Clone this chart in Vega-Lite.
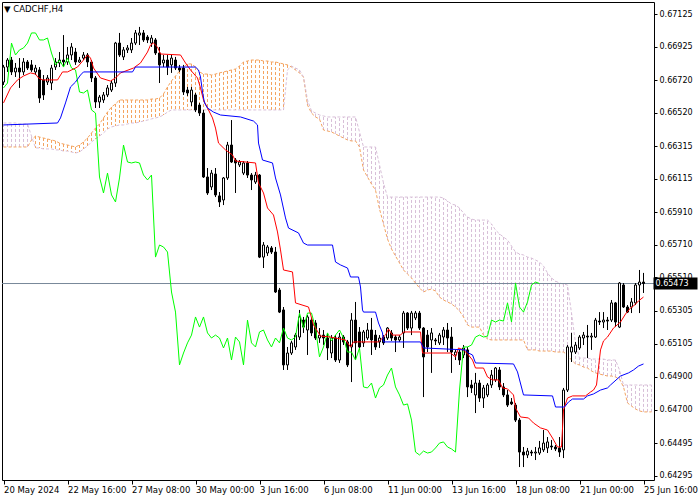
{
"$schema":"https://vega.github.io/schema/vega-lite/v6.json",
"width":652,"height":478,"autosize":"none",
"padding":{"left":2,"top":2,"right":46,"bottom":20},
"background":"white",
"config":{"view":{"stroke":"#000","strokeWidth":1},"axis":{"grid":false,"labelOverlap":false,"labelFlush":false,"title":null}},
"datasets":{
"candles":[
{"i":0,"o":0.66708,"h":0.66813,"l":0.66690,"c":0.66800},
{"i":1,"o":0.66800,"h":0.66855,"l":0.66770,"c":0.66843},
{"i":2,"o":0.66843,"h":0.66862,"l":0.66751,"c":0.66770},
{"i":3,"o":0.66770,"h":0.66825,"l":0.66739,"c":0.66794},
{"i":4,"o":0.66794,"h":0.66855,"l":0.66672,"c":0.66770},
{"i":5,"o":0.66770,"h":0.66855,"l":0.66751,"c":0.66831},
{"i":6,"o":0.66831,"h":0.66843,"l":0.66782,"c":0.66794},
{"i":7,"o":0.66813,"h":0.66843,"l":0.66770,"c":0.66782},
{"i":8,"o":0.66770,"h":0.66813,"l":0.66751,"c":0.66794},
{"i":9,"o":0.66782,"h":0.66800,"l":0.66580,"c":0.66610},
{"i":10,"o":0.66721,"h":0.66751,"l":0.66598,"c":0.66629},
{"i":11,"o":0.66708,"h":0.66751,"l":0.66690,"c":0.66733},
{"i":12,"o":0.66702,"h":0.66813,"l":0.66659,"c":0.66794},
{"i":13,"o":0.66800,"h":0.66855,"l":0.66782,"c":0.66831},
{"i":14,"o":0.66825,"h":0.66892,"l":0.66800,"c":0.66843},
{"i":15,"o":0.66843,"h":0.66996,"l":0.66800,"c":0.66831},
{"i":16,"o":0.66831,"h":0.66923,"l":0.66813,"c":0.66874},
{"i":17,"o":0.66874,"h":0.66947,"l":0.66843,"c":0.66923},
{"i":18,"o":0.66892,"h":0.66917,"l":0.66813,"c":0.66831},
{"i":19,"o":0.66831,"h":0.66862,"l":0.66825,"c":0.66843},
{"i":20,"o":0.66855,"h":0.66892,"l":0.66843,"c":0.66874},
{"i":21,"o":0.66874,"h":0.66886,"l":0.66800,"c":0.66831},
{"i":22,"o":0.66831,"h":0.66843,"l":0.66708,"c":0.66733},
{"i":23,"o":0.66733,"h":0.66745,"l":0.66549,"c":0.66586},
{"i":24,"o":0.66586,"h":0.66629,"l":0.66549,"c":0.66616},
{"i":25,"o":0.66598,"h":0.66647,"l":0.66580,"c":0.66629},
{"i":26,"o":0.66629,"h":0.66690,"l":0.66616,"c":0.66672},
{"i":27,"o":0.66659,"h":0.66721,"l":0.66647,"c":0.66702},
{"i":28,"o":0.66702,"h":0.66954,"l":0.66678,"c":0.66947},
{"i":29,"o":0.66947,"h":0.67009,"l":0.66862,"c":0.66874},
{"i":30,"o":0.66862,"h":0.66923,"l":0.66843,"c":0.66905},
{"i":31,"o":0.66905,"h":0.66935,"l":0.66886,"c":0.66917},
{"i":32,"o":0.66905,"h":0.66978,"l":0.66886,"c":0.66947},
{"i":33,"o":0.66947,"h":0.67027,"l":0.66935,"c":0.67009},
{"i":34,"o":0.66996,"h":0.67046,"l":0.66935,"c":0.67009},
{"i":35,"o":0.67009,"h":0.67027,"l":0.66954,"c":0.66966},
{"i":36,"o":0.66984,"h":0.66996,"l":0.66947,"c":0.66966},
{"i":37,"o":0.66947,"h":0.66996,"l":0.66923,"c":0.66978},
{"i":38,"o":0.66966,"h":0.66978,"l":0.66874,"c":0.66886},
{"i":39,"o":0.66886,"h":0.66923,"l":0.66702,"c":0.66813},
{"i":40,"o":0.66825,"h":0.66874,"l":0.66800,"c":0.66843},
{"i":41,"o":0.66843,"h":0.66874,"l":0.66751,"c":0.66800},
{"i":42,"o":0.66813,"h":0.66874,"l":0.66764,"c":0.66855},
{"i":43,"o":0.66843,"h":0.66862,"l":0.66782,"c":0.66794},
{"i":44,"o":0.66794,"h":0.66813,"l":0.66770,"c":0.66782},
{"i":45,"o":0.66794,"h":0.66813,"l":0.66629,"c":0.66647},
{"i":46,"o":0.66659,"h":0.66678,"l":0.66623,"c":0.66641},
{"i":47,"o":0.66586,"h":0.66678,"l":0.66561,"c":0.66659},
{"i":48,"o":0.66629,"h":0.66641,"l":0.66524,"c":0.66537},
{"i":49,"o":0.66567,"h":0.66580,"l":0.66500,"c":0.66518},
{"i":50,"o":0.66518,"h":0.66537,"l":0.66120,"c":0.66126},
{"i":51,"o":0.66126,"h":0.66181,"l":0.66016,"c":0.66028},
{"i":52,"o":0.66065,"h":0.66169,"l":0.66046,"c":0.66150},
{"i":53,"o":0.66144,"h":0.66181,"l":0.66003,"c":0.66016},
{"i":54,"o":0.66010,"h":0.66034,"l":0.65942,"c":0.65973},
{"i":55,"o":0.65985,"h":0.66126,"l":0.65954,"c":0.66120},
{"i":56,"o":0.66120,"h":0.66341,"l":0.66108,"c":0.66322},
{"i":57,"o":0.66322,"h":0.66475,"l":0.66212,"c":0.66218},
{"i":58,"o":0.66230,"h":0.66242,"l":0.66028,"c":0.66212},
{"i":59,"o":0.66200,"h":0.66230,"l":0.66187,"c":0.66218},
{"i":60,"o":0.66150,"h":0.66224,"l":0.66138,"c":0.66212},
{"i":61,"o":0.66212,"h":0.66224,"l":0.66120,"c":0.66138},
{"i":62,"o":0.66138,"h":0.66150,"l":0.66046,"c":0.66108},
{"i":63,"o":0.66095,"h":0.66157,"l":0.66083,"c":0.66138},
{"i":64,"o":0.66138,"h":0.66144,"l":0.65629,"c":0.65635},
{"i":65,"o":0.65635,"h":0.65727,"l":0.65568,"c":0.65709},
{"i":66,"o":0.65660,"h":0.65709,"l":0.65642,"c":0.65697},
{"i":67,"o":0.65691,"h":0.65703,"l":0.65654,"c":0.65666},
{"i":68,"o":0.65666,"h":0.65697,"l":0.65415,"c":0.65421},
{"i":69,"o":0.65433,"h":0.65446,"l":0.65292,"c":0.65298},
{"i":70,"o":0.65311,"h":0.65329,"l":0.64943,"c":0.64974},
{"i":71,"o":0.64974,"h":0.65084,"l":0.64943,"c":0.65047},
{"i":72,"o":0.65047,"h":0.65121,"l":0.65035,"c":0.65109},
{"i":73,"o":0.65084,"h":0.65170,"l":0.65066,"c":0.65157},
{"i":74,"o":0.65145,"h":0.65311,"l":0.65127,"c":0.65268},
{"i":75,"o":0.65249,"h":0.65268,"l":0.65170,"c":0.65206},
{"i":76,"o":0.65188,"h":0.65280,"l":0.65035,"c":0.65268},
{"i":77,"o":0.65249,"h":0.65262,"l":0.65151,"c":0.65170},
{"i":78,"o":0.65231,"h":0.65249,"l":0.65127,"c":0.65139},
{"i":79,"o":0.65139,"h":0.65200,"l":0.65109,"c":0.65157},
{"i":80,"o":0.65157,"h":0.65188,"l":0.65096,"c":0.65139},
{"i":81,"o":0.65139,"h":0.65170,"l":0.65004,"c":0.65078},
{"i":82,"o":0.65047,"h":0.65157,"l":0.65016,"c":0.65139},
{"i":83,"o":0.65139,"h":0.65157,"l":0.64992,"c":0.65004},
{"i":84,"o":0.65004,"h":0.65170,"l":0.64986,"c":0.65145},
{"i":85,"o":0.65145,"h":0.65157,"l":0.65096,"c":0.65115},
{"i":86,"o":0.65115,"h":0.65127,"l":0.64961,"c":0.64974},
{"i":87,"o":0.65084,"h":0.65292,"l":0.64869,"c":0.65249},
{"i":88,"o":0.65249,"h":0.65360,"l":0.65004,"c":0.65109},
{"i":89,"o":0.65176,"h":0.65206,"l":0.65066,"c":0.65084},
{"i":90,"o":0.65109,"h":0.65188,"l":0.65084,"c":0.65176},
{"i":91,"o":0.65139,"h":0.65231,"l":0.65127,"c":0.65188},
{"i":92,"o":0.65188,"h":0.65262,"l":0.65035,"c":0.65127},
{"i":93,"o":0.65157,"h":0.65188,"l":0.65066,"c":0.65084},
{"i":94,"o":0.65115,"h":0.65157,"l":0.65078,"c":0.65139},
{"i":95,"o":0.65145,"h":0.65157,"l":0.65096,"c":0.65109},
{"i":96,"o":0.65139,"h":0.65206,"l":0.65127,"c":0.65200},
{"i":97,"o":0.65170,"h":0.65188,"l":0.65121,"c":0.65139},
{"i":98,"o":0.65145,"h":0.65157,"l":0.65053,"c":0.65127},
{"i":99,"o":0.65127,"h":0.65157,"l":0.65115,"c":0.65145},
{"i":100,"o":0.65170,"h":0.65305,"l":0.65078,"c":0.65292},
{"i":101,"o":0.65292,"h":0.65298,"l":0.65188,"c":0.65200},
{"i":102,"o":0.65200,"h":0.65305,"l":0.65157,"c":0.65292},
{"i":103,"o":0.65262,"h":0.65305,"l":0.65249,"c":0.65292},
{"i":104,"o":0.65292,"h":0.65305,"l":0.65188,"c":0.65200},
{"i":105,"o":0.65200,"h":0.65206,"l":0.64777,"c":0.65023},
{"i":106,"o":0.65157,"h":0.65188,"l":0.65053,"c":0.65084},
{"i":107,"o":0.65127,"h":0.65200,"l":0.64925,"c":0.65170},
{"i":108,"o":0.65127,"h":0.65139,"l":0.65096,"c":0.65121},
{"i":109,"o":0.65109,"h":0.65170,"l":0.65096,"c":0.65157},
{"i":110,"o":0.65145,"h":0.65206,"l":0.65096,"c":0.65188},
{"i":111,"o":0.65188,"h":0.65231,"l":0.65053,"c":0.65139},
{"i":112,"o":0.65145,"h":0.65206,"l":0.64925,"c":0.65053},
{"i":113,"o":0.65035,"h":0.65066,"l":0.65004,"c":0.65053},
{"i":114,"o":0.65053,"h":0.65066,"l":0.64974,"c":0.65004},
{"i":115,"o":0.65035,"h":0.65096,"l":0.65016,"c":0.65078},
{"i":116,"o":0.65066,"h":0.65084,"l":0.64777,"c":0.64839},
{"i":117,"o":0.64851,"h":0.64882,"l":0.64802,"c":0.64833},
{"i":118,"o":0.64790,"h":0.64925,"l":0.64679,"c":0.64863},
{"i":119,"o":0.64863,"h":0.64882,"l":0.64747,"c":0.64771},
{"i":120,"o":0.64771,"h":0.64851,"l":0.64710,"c":0.64833},
{"i":121,"o":0.64790,"h":0.64863,"l":0.64777,"c":0.64851},
{"i":122,"o":0.64851,"h":0.64943,"l":0.64833,"c":0.64912},
{"i":123,"o":0.64882,"h":0.64961,"l":0.64869,"c":0.64955},
{"i":124,"o":0.64943,"h":0.64961,"l":0.64820,"c":0.64839},
{"i":125,"o":0.64839,"h":0.64863,"l":0.64777,"c":0.64790},
{"i":126,"o":0.64790,"h":0.64820,"l":0.64716,"c":0.64728},
{"i":127,"o":0.64747,"h":0.64771,"l":0.64728,"c":0.64735},
{"i":128,"o":0.64728,"h":0.64741,"l":0.64624,"c":0.64636},
{"i":129,"o":0.64636,"h":0.64649,"l":0.64348,"c":0.64440},
{"i":130,"o":0.64440,"h":0.64471,"l":0.64348,"c":0.64422},
{"i":131,"o":0.64422,"h":0.64465,"l":0.64403,"c":0.64446},
{"i":132,"o":0.64440,"h":0.64453,"l":0.64416,"c":0.64434},
{"i":133,"o":0.64434,"h":0.64471,"l":0.64391,"c":0.64440},
{"i":134,"o":0.64434,"h":0.64508,"l":0.64422,"c":0.64465},
{"i":135,"o":0.64453,"h":0.64575,"l":0.64440,"c":0.64495},
{"i":136,"o":0.64465,"h":0.64532,"l":0.64434,"c":0.64502},
{"i":137,"o":0.64477,"h":0.64514,"l":0.64453,"c":0.64471},
{"i":138,"o":0.64471,"h":0.64483,"l":0.64446,"c":0.64459},
{"i":139,"o":0.64465,"h":0.64532,"l":0.64410,"c":0.64440},
{"i":140,"o":0.64453,"h":0.64833,"l":0.64403,"c":0.64820},
{"i":141,"o":0.64820,"h":0.65096,"l":0.64808,"c":0.65084},
{"i":142,"o":0.65053,"h":0.65170,"l":0.64992,"c":0.65084},
{"i":143,"o":0.65053,"h":0.65115,"l":0.65041,"c":0.65096},
{"i":144,"o":0.65078,"h":0.65157,"l":0.65066,"c":0.65145},
{"i":145,"o":0.65139,"h":0.65176,"l":0.65096,"c":0.65157},
{"i":146,"o":0.65151,"h":0.65219,"l":0.65016,"c":0.65145},
{"i":147,"o":0.65145,"h":0.65170,"l":0.65066,"c":0.65151},
{"i":148,"o":0.65145,"h":0.65262,"l":0.65139,"c":0.65249},
{"i":149,"o":0.65243,"h":0.65298,"l":0.65219,"c":0.65237},
{"i":150,"o":0.65237,"h":0.65298,"l":0.65200,"c":0.65249},
{"i":151,"o":0.65249,"h":0.65268,"l":0.65188,"c":0.65243},
{"i":152,"o":0.65249,"h":0.65372,"l":0.65237,"c":0.65354},
{"i":153,"o":0.65354,"h":0.65360,"l":0.65206,"c":0.65237},
{"i":154,"o":0.65206,"h":0.65482,"l":0.65200,"c":0.65476},
{"i":155,"o":0.65464,"h":0.65476,"l":0.65323,"c":0.65329},
{"i":156,"o":0.65329,"h":0.65341,"l":0.65292,"c":0.65298},
{"i":157,"o":0.65329,"h":0.65384,"l":0.65292,"c":0.65360},
{"i":158,"o":0.65354,"h":0.65476,"l":0.65341,"c":0.65464},
{"i":159,"o":0.65464,"h":0.65556,"l":0.65292,"c":0.65482},
{"i":160,"o":0.65482,"h":0.65538,"l":0.65415,"c":0.65473}
],
"cloud":[
{"i":0,"a":0.66310,"b":0.66457},{"i":1,"a":0.66310,"b":0.66457},{"i":2,"a":0.66310,"b":0.66457},{"i":3,"a":0.66310,"b":0.66457},
{"i":4,"a":0.66310,"b":0.66451},{"i":5,"a":0.66310,"b":0.66451},{"i":6,"a":0.66310,"b":0.66451},{"i":7,"a":0.66353,"b":0.66377},
{"i":8,"a":0.66377,"b":0.66304},{"i":9,"a":0.66371,"b":0.66304},{"i":10,"a":0.66365,"b":0.66298},{"i":11,"a":0.66359,"b":0.66298},
{"i":12,"a":0.66353,"b":0.66298},{"i":13,"a":0.66347,"b":0.66292},{"i":14,"a":0.66334,"b":0.66292},{"i":15,"a":0.66328,"b":0.66285},
{"i":16,"a":0.66322,"b":0.66285},{"i":17,"a":0.66316,"b":0.66279},{"i":18,"a":0.66310,"b":0.66273},{"i":19,"a":0.66322,"b":0.66279},
{"i":20,"a":0.66341,"b":0.66298},{"i":21,"a":0.66365,"b":0.66316},{"i":22,"a":0.66396,"b":0.66341},{"i":23,"a":0.66426,"b":0.66359},
{"i":24,"a":0.66451,"b":0.66377},{"i":25,"a":0.66488,"b":0.66396},{"i":26,"a":0.66524,"b":0.66420},{"i":27,"a":0.66555,"b":0.66433},
{"i":28,"a":0.66574,"b":0.66439},{"i":29,"a":0.66598,"b":0.66445},{"i":30,"a":0.66598,"b":0.66445},{"i":31,"a":0.66598,"b":0.66451},
{"i":32,"a":0.66598,"b":0.66457},{"i":33,"a":0.66598,"b":0.66457},{"i":34,"a":0.66598,"b":0.66463},{"i":35,"a":0.66598,"b":0.66469},
{"i":36,"a":0.66598,"b":0.66475},{"i":37,"a":0.66604,"b":0.66482},{"i":38,"a":0.66604,"b":0.66488},{"i":39,"a":0.66610,"b":0.66494},
{"i":40,"a":0.66635,"b":0.66506},{"i":41,"a":0.66678,"b":0.66524},{"i":42,"a":0.66715,"b":0.66537},{"i":43,"a":0.66745,"b":0.66537},
{"i":44,"a":0.66776,"b":0.66537},{"i":45,"a":0.66800,"b":0.66537},{"i":46,"a":0.66819,"b":0.66537},{"i":47,"a":0.66819,"b":0.66537},
{"i":48,"a":0.66800,"b":0.66537},{"i":49,"a":0.66770,"b":0.66537},{"i":50,"a":0.66757,"b":0.66537},{"i":51,"a":0.66757,"b":0.66537},
{"i":52,"a":0.66751,"b":0.66537},{"i":53,"a":0.66757,"b":0.66537},{"i":54,"a":0.66764,"b":0.66537},{"i":55,"a":0.66770,"b":0.66537},
{"i":56,"a":0.66776,"b":0.66537},{"i":57,"a":0.66782,"b":0.66537},{"i":58,"a":0.66788,"b":0.66537},{"i":59,"a":0.66806,"b":0.66537},
{"i":60,"a":0.66831,"b":0.66537},{"i":61,"a":0.66837,"b":0.66537},{"i":62,"a":0.66843,"b":0.66537},{"i":63,"a":0.66843,"b":0.66537},
{"i":64,"a":0.66843,"b":0.66537},{"i":65,"a":0.66837,"b":0.66537},{"i":66,"a":0.66837,"b":0.66537},{"i":67,"a":0.66831,"b":0.66537},
{"i":68,"a":0.66831,"b":0.66537},{"i":69,"a":0.66825,"b":0.66537},{"i":70,"a":0.66819,"b":0.66537},{"i":71,"a":0.66813,"b":0.66782},
{"i":72,"a":0.66800,"b":0.66806},{"i":73,"a":0.66782,"b":0.66794},{"i":74,"a":0.66764,"b":0.66782},{"i":75,"a":0.66739,"b":0.66739},
{"i":76,"a":0.66567,"b":0.66598},{"i":77,"a":0.66518,"b":0.66531},{"i":78,"a":0.66494,"b":0.66518},{"i":79,"a":0.66481,"b":0.66506},
{"i":80,"a":0.66414,"b":0.66500},{"i":81,"a":0.66408,"b":0.66494},{"i":82,"a":0.66402,"b":0.66494},{"i":83,"a":0.66390,"b":0.66494},
{"i":84,"a":0.66377,"b":0.66494},{"i":85,"a":0.66365,"b":0.66494},{"i":86,"a":0.66353,"b":0.66494},{"i":87,"a":0.66347,"b":0.66494},
{"i":88,"a":0.66347,"b":0.66494},{"i":89,"a":0.66310,"b":0.66402},{"i":90,"a":0.66169,"b":0.66310},{"i":91,"a":0.66126,"b":0.66310},
{"i":92,"a":0.66083,"b":0.66310},{"i":93,"a":0.66046,"b":0.66310},{"i":94,"a":0.65930,"b":0.66200},{"i":95,"a":0.65838,"b":0.66089},
{"i":96,"a":0.65746,"b":0.66003},{"i":97,"a":0.65685,"b":0.66003},{"i":98,"a":0.65642,"b":0.66003},{"i":99,"a":0.65599,"b":0.66003},
{"i":100,"a":0.65556,"b":0.66003},{"i":101,"a":0.65531,"b":0.66003},{"i":102,"a":0.65507,"b":0.66003},{"i":103,"a":0.65476,"b":0.66003},
{"i":104,"a":0.65446,"b":0.66003},{"i":105,"a":0.65421,"b":0.66003},{"i":106,"a":0.65433,"b":0.66003},{"i":107,"a":0.65439,"b":0.66003},
{"i":108,"a":0.65427,"b":0.66003},{"i":109,"a":0.65390,"b":0.66003},{"i":110,"a":0.65372,"b":0.65997},{"i":111,"a":0.65360,"b":0.65979},
{"i":112,"a":0.65348,"b":0.65960},{"i":113,"a":0.65329,"b":0.65954},{"i":114,"a":0.65305,"b":0.65936},{"i":115,"a":0.65268,"b":0.65905},
{"i":116,"a":0.65219,"b":0.65881},{"i":117,"a":0.65206,"b":0.65868},{"i":118,"a":0.65206,"b":0.65862},{"i":119,"a":0.65206,"b":0.65862},
{"i":120,"a":0.65157,"b":0.65862},{"i":121,"a":0.65133,"b":0.65862},{"i":122,"a":0.65127,"b":0.65838},{"i":123,"a":0.65127,"b":0.65801},
{"i":124,"a":0.65127,"b":0.65777},{"i":125,"a":0.65127,"b":0.65758},{"i":126,"a":0.65127,"b":0.65740},{"i":127,"a":0.65127,"b":0.65703},
{"i":128,"a":0.65127,"b":0.65666},{"i":129,"a":0.65127,"b":0.65654},{"i":130,"a":0.65127,"b":0.65648},{"i":131,"a":0.65066,"b":0.65635},
{"i":132,"a":0.65066,"b":0.65629},{"i":133,"a":0.65066,"b":0.65617},{"i":134,"a":0.65059,"b":0.65605},{"i":135,"a":0.65059,"b":0.65580},
{"i":136,"a":0.65059,"b":0.65538},{"i":137,"a":0.65059,"b":0.65507},{"i":138,"a":0.65053,"b":0.65488},{"i":139,"a":0.65053,"b":0.65476},
{"i":140,"a":0.65053,"b":0.65470},{"i":141,"a":0.65035,"b":0.65464},{"i":142,"a":0.65004,"b":0.65292},{"i":143,"a":0.64980,"b":0.65109},
{"i":144,"a":0.64974,"b":0.65016},{"i":145,"a":0.64961,"b":0.65016},{"i":146,"a":0.64955,"b":0.65016},{"i":147,"a":0.64937,"b":0.65010},
{"i":148,"a":0.64925,"b":0.65010},{"i":149,"a":0.64918,"b":0.65010},{"i":150,"a":0.64912,"b":0.65010},{"i":151,"a":0.64906,"b":0.65004},
{"i":152,"a":0.64906,"b":0.65004},{"i":153,"a":0.64900,"b":0.65004},{"i":154,"a":0.64888,"b":0.64943},{"i":155,"a":0.64839,"b":0.64851},
{"i":156,"a":0.64741,"b":0.64851},{"i":157,"a":0.64722,"b":0.64851},{"i":158,"a":0.64704,"b":0.64851},{"i":159,"a":0.64692,"b":0.64851},
{"i":160,"a":0.64686,"b":0.64851},{"i":161,"a":0.64686,"b":0.64851},{"i":162,"a":0.64686,"b":0.64851}
],
"tenkan":[
{"i":0,"v":0.66580},{"i":1.75,"v":0.66672},{"i":3.5,"v":0.66721},{"i":5,"v":0.66745},{"i":6.75,"v":0.66764},{"i":8,"v":0.66757},{"i":8.75,"v":0.66733},{"i":9.75,"v":0.66721},{"i":13.5,"v":0.66721},{"i":14.75,"v":0.66770},{"i":16,"v":0.66770},{"i":18.5,"v":0.66800},{"i":20,"v":0.66843},{"i":21,"v":0.66874},{"i":21.75,"v":0.66855},{"i":22.5,"v":0.66794},{"i":24.25,"v":0.66733},{"i":26.75,"v":0.66714},{"i":28,"v":0.66733},{"i":29.25,"v":0.66764},{"i":32.5,"v":0.66794},{"i":34.25,"v":0.66825},{"i":36,"v":0.66892},{"i":36.75,"v":0.66935},{"i":37.5,"v":0.66947},{"i":38.5,"v":0.66923},{"i":39.25,"v":0.66880},{"i":44.25,"v":0.66874},{"i":45.5,"v":0.66825},{"i":46.75,"v":0.66782},{"i":48.5,"v":0.66733},{"i":49.25,"v":0.66672},{"i":50,"v":0.66598},{"i":51,"v":0.66549},{"i":52.25,"v":0.66488},{"i":53,"v":0.66426},{"i":53.75,"v":0.66334},{"i":55.5,"v":0.66292},{"i":57.25,"v":0.66261},{"i":58,"v":0.66224},{"i":63,"v":0.66212},{"i":63.75,"v":0.66089},{"i":65,"v":0.66028},{"i":66,"v":0.65936},{"i":67.5,"v":0.65893},{"i":68.5,"v":0.65789},{"i":69.25,"v":0.65679},{"i":70,"v":0.65556},{"i":72.25,"v":0.65544},{"i":73,"v":0.65354},{"i":76.25,"v":0.65329},{"i":77.5,"v":0.65219},{"i":79.25,"v":0.65151},{"i":81.75,"v":0.65145},{"i":85.5,"v":0.65127},{"i":86.75,"v":0.65084},{"i":87.5,"v":0.65115},{"i":93.75,"v":0.65115},{"i":95.5,"v":0.65157},{"i":96.25,"v":0.65194},{"i":97.25,"v":0.65157},{"i":99.25,"v":0.65157},{"i":100,"v":0.65176},{"i":104.25,"v":0.65176},{"i":104.75,"v":0.65047},{"i":111.75,"v":0.65047},{"i":113,"v":0.65023},{"i":113.75,"v":0.65078},{"i":115,"v":0.65066},{"i":116.25,"v":0.65035},{"i":117.25,"v":0.65004},{"i":118,"v":0.64955},{"i":120,"v":0.64955},{"i":121,"v":0.64900},{"i":122.25,"v":0.64882},{"i":123.75,"v":0.64882},{"i":124.75,"v":0.64833},{"i":126,"v":0.64827},{"i":127.5,"v":0.64790},{"i":128,"v":0.64710},{"i":129.25,"v":0.64655},{"i":131.25,"v":0.64649},{"i":132.5,"v":0.64618},{"i":134.25,"v":0.64588},{"i":136,"v":0.64575},{"i":137.25,"v":0.64526},{"i":138.5,"v":0.64471},{"i":139.5,"v":0.64471},{"i":140,"v":0.64698},{"i":141,"v":0.64771},{"i":142.25,"v":0.64784},{"i":145.5,"v":0.64784},{"i":146.75,"v":0.64808},{"i":147.5,"v":0.64820},{"i":148.25,"v":0.64851},{"i":149.25,"v":0.65066},{"i":150,"v":0.65121},{"i":151,"v":0.65145},{"i":152.5,"v":0.65200},{"i":154.25,"v":0.65237},{"i":155.5,"v":0.65286},{"i":156.75,"v":0.65323},{"i":157.5,"v":0.65335},{"i":158.75,"v":0.65366},{"i":160,"v":0.65390}
],
"kijun":[
{"i":0,"v":0.66445},{"i":13.5,"v":0.66457},{"i":14.25,"v":0.66488},{"i":15.5,"v":0.66580},{"i":16.75,"v":0.66678},{"i":18,"v":0.66708},{"i":19.25,"v":0.66751},{"i":20,"v":0.66770},{"i":32.25,"v":0.66770},{"i":33,"v":0.66800},{"i":48,"v":0.66800},{"i":48.75,"v":0.66782},{"i":49.25,"v":0.66739},{"i":49.75,"v":0.66647},{"i":50.25,"v":0.66580},{"i":51,"v":0.66549},{"i":52.5,"v":0.66524},{"i":54.25,"v":0.66506},{"i":59.25,"v":0.66494},{"i":62.5,"v":0.66469},{"i":63.5,"v":0.66445},{"i":63.75,"v":0.66334},{"i":64.75,"v":0.66230},{"i":67.25,"v":0.66212},{"i":68,"v":0.66120},{"i":69.25,"v":0.66016},{"i":70.5,"v":0.65875},{"i":71.25,"v":0.65813},{"i":73.75,"v":0.65783},{"i":75,"v":0.65721},{"i":76,"v":0.65709},{"i":82.25,"v":0.65709},{"i":83,"v":0.65605},{"i":84.25,"v":0.65587},{"i":86,"v":0.65568},{"i":86.75,"v":0.65513},{"i":88.75,"v":0.65513},{"i":89.25,"v":0.65452},{"i":89.75,"v":0.65311},{"i":90,"v":0.65298},{"i":93,"v":0.65298},{"i":93.75,"v":0.65231},{"i":94.75,"v":0.65170},{"i":95,"v":0.65115},{"i":104.25,"v":0.65115},{"i":105,"v":0.65078},{"i":115.5,"v":0.65066},{"i":116.25,"v":0.65047},{"i":117.25,"v":0.65035},{"i":118,"v":0.64986},{"i":127.5,"v":0.64980},{"i":128.5,"v":0.64931},{"i":130,"v":0.64790},{"i":137.25,"v":0.64784},{"i":138,"v":0.64716},{"i":140.25,"v":0.64716},{"i":141.25,"v":0.64747},{"i":142.25,"v":0.64765},{"i":145,"v":0.64765},{"i":146,"v":0.64784},{"i":147.5,"v":0.64796},{"i":149.25,"v":0.64820},{"i":151,"v":0.64833},{"i":151.75,"v":0.64851},{"i":154.25,"v":0.64906},{"i":156.25,"v":0.64925},{"i":157.5,"v":0.64943},{"i":158.75,"v":0.64967},{"i":160,"v":0.64980}
],
"last":[{"p":0.65473,"label":"0.65473"}],
"heading":[{"t":"▼ CADCHF,H4"}]
},
"layer":[
{"data":{"name":"cloud"},"transform":[{"filter":"datum.a > datum.b"}],
 "mark":{"type":"rule","strokeWidth":1,"strokeDash":[3,2],"color":"#F4A460"},
 "encoding":{"x":{"field":"i","type":"quantitative","scale":{"domain":[-0.375,162.625],"nice":false,"zero":false,"padding":0},
   "axis":{"orient":"bottom","title":null,"values":[0,16,32,48,64,80,96,112,128,144,160],"tickCount":40,
    "labelExpr":"datum.value==0?'20 May 2024':datum.value==16?'22 May 16:00':datum.value==32?'27 May 08:00':datum.value==48?'30 May 00:00':datum.value==64?'3 Jun 16:00':datum.value==80?'6 Jun 08:00':datum.value==96?'11 Jun 00:00':datum.value==112?'13 Jun 16:00':datum.value==128?'18 Jun 08:00':datum.value==144?'21 Jun 00:00':'25 Jun 16:00'",
    "domain":false,"grid":false,"tickSize":4,"tickColor":"#000","labelAlign":"left","labelBaseline":"top","labelPadding":1,"labelFont":"DejaVu Sans","labelFontSize":8.5,"labelColor":"#000","labelFlush":false,"labelOverlap":false,"labelBound":false}},
  "y":{"field":"a","type":"quantitative","scale":{"domain":[0.642686,0.671987],"nice":false,"zero":false,"padding":0},
   "axis":{"orient":"right","title":null,"values":[0.67125,0.66925,0.6672,0.6652,0.66315,0.66115,0.6591,0.6571,0.6551,0.65305,0.65105,0.649,0.647,0.64495,0.64295],"tickCount":40,
    "format":".5f","domain":false,"grid":false,"tickSize":3,"tickColor":"#000","labelPadding":2,"labelFont":"DejaVu Sans","labelFontSize":8,"labelColor":"#000","labelBaseline":"middle","labelOverlap":false,"labelFlush":false}},
  "y2":{"field":"b"}}},
{"data":{"name":"cloud"},"transform":[{"filter":"datum.a <= datum.b"}],
 "mark":{"type":"rule","strokeWidth":1,"strokeDash":[3,2],"color":"#D8BFD8"},
 "encoding":{"x":{"field":"i","type":"quantitative"},"y":{"field":"a","type":"quantitative"},"y2":{"field":"b"}}},
{"data":{"name":"cloud"},"mark":{"type":"line","strokeWidth":1,"strokeDash":[3,2],"color":"#F4A460"},
 "encoding":{"x":{"field":"i","type":"quantitative"},"y":{"field":"a","type":"quantitative"}}},
{"data":{"name":"cloud"},"mark":{"type":"line","strokeWidth":1,"strokeDash":[3,2],"color":"#D8BFD8"},
 "encoding":{"x":{"field":"i","type":"quantitative"},"y":{"field":"b","type":"quantitative"}}},
{"data":{"name":"last"},"mark":{"type":"rule","strokeWidth":1,"color":"#778899"},
 "encoding":{"y":{"field":"p","type":"quantitative"}}},
{"data":{"name":"candles"},"mark":{"type":"rule","strokeWidth":1,"color":"#000"},
 "encoding":{"x":{"field":"i","type":"quantitative"},"y":{"field":"l","type":"quantitative"},"y2":{"field":"h"}}},
{"data":{"name":"candles"},"mark":{"type":"bar","width":2,"stroke":"#000","strokeWidth":1},
 "encoding":{"x":{"field":"i","type":"quantitative"},"y":{"field":"o","type":"quantitative"},"y2":{"field":"c"},
  "fill":{"condition":{"test":"datum.c > datum.o","value":"#ffffff"},"value":"#000000"}}},
{"data":{"name":"candles"},
 "transform":[{"window":[{"op":"lead","field":"c","param":26,"as":"ck"}],"sort":[{"field":"i","order":"ascending"}]}],
 "mark":{"type":"line","strokeWidth":1,"color":"#00FF00"},
 "encoding":{"x":{"field":"i","type":"quantitative"},"y":{"field":"ck","type":"quantitative"}}},
{"data":{"name":"tenkan"},"mark":{"type":"line","strokeWidth":1,"color":"#FF0000"},
 "encoding":{"x":{"field":"i","type":"quantitative"},"y":{"field":"v","type":"quantitative"}}},
{"data":{"name":"kijun"},"mark":{"type":"line","strokeWidth":1,"color":"#0000FF"},
 "encoding":{"x":{"field":"i","type":"quantitative"},"y":{"field":"v","type":"quantitative"}}},
{"data":{"name":"last"},"mark":{"type":"rule","strokeWidth":12,"color":"#000","strokeCap":"butt"},
 "encoding":{"x":{"datum":162.5,"type":"quantitative"},"x2":{"datum":173.5},"y":{"field":"p","type":"quantitative"}}},
{"data":{"name":"last"},"mark":{"type":"text","align":"left","baseline":"middle","color":"#ffffff","font":"DejaVu Sans","fontSize":8,"dx":1},
 "encoding":{"x":{"datum":162.75,"type":"quantitative"},"y":{"field":"p","type":"quantitative"},"text":{"field":"label"}}},
{"data":{"name":"heading"},"mark":{"type":"text","align":"left","baseline":"top","color":"#000","font":"DejaVu Sans","fontSize":8.5,"dx":2,"dy":3},
 "encoding":{"x":{"datum":-0.375,"type":"quantitative"},"y":{"datum":0.671987,"type":"quantitative"},"text":{"field":"t"}}}
]
}
